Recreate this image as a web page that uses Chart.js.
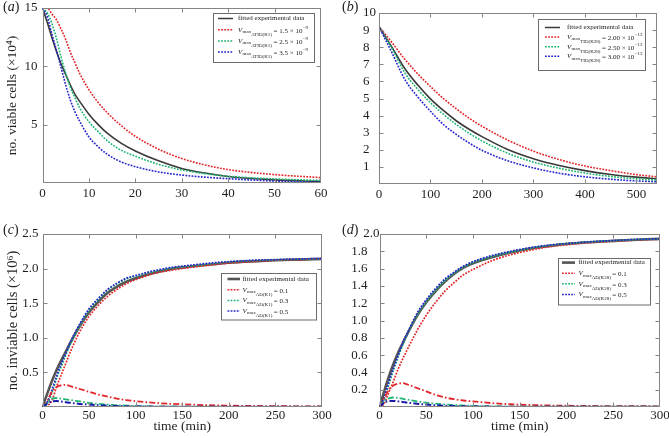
<!DOCTYPE html>
<html><head><meta charset="utf-8">
<script src="https://cdn.jsdelivr.net/npm/chart.js@4.4.0/dist/chart.umd.min.js"></script>
<style>
html,body{margin:0;padding:0;background:#fff;}
#wrap{position:relative;width:669px;height:438px;overflow:hidden;background:#fff;}
canvas{position:absolute;}
.lab{position:absolute;font-family:'Liberation Serif',serif;font-size:14px;color:#222;line-height:14px;white-space:nowrap;}
</style></head><body>
<div id="wrap">
<canvas id="ca" style="left:0;top:0" width="334" height="215"></canvas>
<canvas id="cb" style="left:334px;top:0" width="335" height="215"></canvas>
<canvas id="cc" style="left:0;top:215px" width="334" height="223"></canvas>
<canvas id="cd" style="left:334px;top:215px" width="335" height="223"></canvas>
<div class="lab" style="left:3px;top:0px">(<i>a</i>)</div>
<div class="lab" style="left:342px;top:0px">(<i>b</i>)</div>
<div class="lab" style="left:3px;top:223px">(<i>c</i>)</div>
<div class="lab" style="left:342px;top:223px">(<i>d</i>)</div>
</div>
<script>
// ---------- Panel (a): viable cells, ATID(K1) ----------
const tA = [0,1,2,3,4,5,6,7,8,10,12,14,17,20,25,30,35,40,50,60];
const blackA = [15,13.8,12.5,11.3,10.2,9.3,8.4,7.6,7.0,5.9,5.0,4.25,3.4,2.75,1.9,1.25,0.85,0.56,0.27,0.14];
const redA   = [15,15,14.5,14.0,13.2,12.3,11.2,10.3,9.4,8.0,6.9,6.0,4.9,4.0,2.9,2.1,1.55,1.15,0.72,0.46];
const greenA = [15,14.6,13.7,12.4,10.8,9.4,8.2,7.3,6.45,5.25,4.4,3.6,2.8,2.3,1.6,1.12,0.8,0.58,0.35,0.22];
const blueA  = [15,14.3,12.8,11.4,9.9,8.4,7.1,6.1,5.3,3.95,3.1,2.45,1.8,1.4,0.95,0.68,0.5,0.37,0.17,0.06];
const xTicksA = [0,10,20,30,40,50,60];
const yTicksA = [5,10,15];
const valsA = ['1.5','2.5','3.5'];
const subA = 'ATID(K1)';
const expA = '\u22129';

// ---------- Panel (b): viable cells, TID(K28) ----------
const tB = [0,25,50,75,100,125,150,175,200,250,300,350,400,450,500,540];
const blackB = [9.2,8.0,6.75,5.8,4.98,4.3,3.7,3.2,2.77,2.02,1.48,1.08,0.78,0.56,0.4,0.31];
const redB   = [9.2,8.28,7.3,6.45,5.7,5.0,4.4,3.85,3.38,2.57,1.92,1.43,1.05,0.78,0.55,0.42];
const greenB = [9.2,7.95,6.5,5.55,4.75,4.08,3.48,2.97,2.52,1.8,1.28,0.92,0.64,0.44,0.3,0.23];
const blueB  = [9.2,7.68,6.12,5.1,4.25,3.48,2.9,2.4,1.97,1.36,0.94,0.63,0.42,0.28,0.18,0.13];
const xTicksB = [0,100,200,300,400,500];
const yTicksB = [1,2,3,4,5,6,7,8,9,10];
const valsB = ['2.00','2.50','3.00'];
const subB = 'TID(K28)';
const expB = '\u221213';

// ---------- Panel (c): inviable cells, AD(K1) ----------
const tC = [0,5,10,15,20,25,30,40,50,60,70,80,90,100,120,140,160,180,200,225,250,275,300];
const blackC = [0,0.19,0.37,0.53,0.67,0.8,0.93,1.17,1.37,1.52,1.65,1.74,1.81,1.86,1.94,2.0,2.03,2.06,2.085,2.105,2.12,2.13,2.14];
const redC   = [0,0.02,0.09,0.29,0.46,0.63,0.8,1.09,1.31,1.47,1.6,1.7,1.78,1.84,1.93,1.98,2.02,2.05,2.08,2.1,2.12,2.13,2.14];
const greenC = [0,0.05,0.2,0.41,0.58,0.75,0.91,1.18,1.4,1.56,1.69,1.78,1.85,1.89,1.96,2.01,2.04,2.07,2.095,2.115,2.125,2.135,2.14];
const blueC  = [0,0.07,0.24,0.44,0.62,0.78,0.94,1.2,1.42,1.57,1.7,1.79,1.86,1.9,1.97,2.02,2.05,2.08,2.1,2.12,2.13,2.14,2.145];
const redLowC   = [0,0.08,0.22,0.29,0.315,0.32,0.3,0.26,0.22,0.18,0.15,0.12,0.1,0.085,0.06,0.045,0.035,0.025,0.02,0.015,0.012,0.01,0.008];
const greenLowC = [0,0.06,0.12,0.13,0.12,0.11,0.1,0.08,0.06,0.045,0.035,0.025,0.02,0.015,0.01,0.007,0.005,0.004,0.003,0.003,0.003,0.003,0.003];
const blueLowC  = [0,0.05,0.08,0.085,0.08,0.07,0.06,0.045,0.035,0.025,0.02,0.015,0.01,0.008,0.005,0.004,0.003,0.003,0.003,0.003,0.003,0.003,0.003];
const xTicksC = [0,50,100,150,200,250,300];
const yTicksC = [0.5,1.0,1.5,2.0,2.5];
const valsC = ['0.1','0.3','0.5'];
const subC = 'AD(K1)';

// ---------- Panel (d): inviable cells, AD(K28) ----------
const tD = [0,5,10,15,20,25,30,40,50,60,70,80,90,100,120,140,160,180,200,225,250,275,300];
const blackD = [0,0.18,0.35,0.5,0.63,0.74,0.85,1.05,1.21,1.34,1.45,1.54,1.61,1.66,1.73,1.785,1.83,1.86,1.885,1.905,1.92,1.933,1.944];
const redD   = [0,0.04,0.17,0.3,0.44,0.56,0.67,0.88,1.06,1.21,1.34,1.44,1.53,1.59,1.69,1.76,1.81,1.85,1.875,1.9,1.915,1.93,1.94];
const greenD = [0,0.09,0.26,0.43,0.58,0.72,0.85,1.06,1.22,1.35,1.46,1.55,1.62,1.67,1.74,1.79,1.835,1.865,1.888,1.908,1.922,1.935,1.945];
const blueD  = [0,0.11,0.29,0.45,0.6,0.75,0.86,1.08,1.24,1.37,1.48,1.56,1.63,1.68,1.75,1.8,1.84,1.87,1.89,1.91,1.925,1.937,1.946];
const redLowD   = [0,0.1,0.2,0.25,0.27,0.275,0.26,0.22,0.18,0.14,0.11,0.09,0.075,0.065,0.045,0.032,0.024,0.018,0.015,0.012,0.01,0.009,0.008];
const greenLowD = [0,0.07,0.1,0.11,0.105,0.095,0.085,0.065,0.05,0.038,0.03,0.022,0.017,0.013,0.008,0.005,0.004,0.003,0.003,0.003,0.003,0.003,0.003];
const blueLowD  = [0,0.05,0.07,0.07,0.065,0.058,0.05,0.038,0.028,0.02,0.015,0.011,0.008,0.006,0.004,0.003,0.003,0.003,0.003,0.003,0.003,0.003,0.003];
const xTicksD = [0,50,100,150,200,250,300];
const yTicksD = [0.2,0.4,0.6,0.8,1.0,1.2,1.4,1.6,1.8,2.0];
const valsD = ['0.1','0.3','0.5'];
const subD = 'AD(K28)';

const fittedLabel = 'fitted experimental data';
const yTitleA = 'no. viable cells (\u00d710\u2074)';
const yTitleC = 'no. inviable cells (\u00d710\u2076)';
const xTitle = 'time (min)';

// ---------- styling ----------
const FONT = '"Liberation Serif", "Times New Roman", serif';
const RED = '#e2262b', GREEN = '#1fb573', BLUE = '#2626cc', BLUE_DK = '#1b1ba8';
const DOT = [1.8, 1.3], DASHDOT = [6, 2.2, 1.6, 2.2];

function pts(t, v) { return t.map((x, i) => ({x: x, y: v[i]})); }
function ds(t, v, color, dash, width) {
  return {data: pts(t, v), borderColor: color, borderDash: dash, borderWidth: width,
          pointRadius: 0, fill: false, tension: 0.35, cubicInterpolationMode: 'monotone'};
}

function drawLegend(ctx, ca, L) {
  const bx = Math.round(ca.right - L.right - L.w), by = Math.round(ca.top + L.top);
  ctx.save();
  ctx.fillStyle = '#fff';
  ctx.fillRect(bx, by, L.w, L.h);
  ctx.strokeStyle = '#6a6a6a'; ctx.lineWidth = 1; ctx.setLineDash([]);
  ctx.strokeRect(bx + 0.5, by + 0.5, L.w, L.h);
  L.items.forEach((it, i) => {
    const ry = by + L.row0 + i * L.gap;
    ctx.save();
    ctx.strokeStyle = it.color; ctx.lineWidth = it.width; ctx.setLineDash(it.dash || []);
    ctx.beginPath(); ctx.moveTo(bx + L.x0, ry); ctx.lineTo(bx + L.x1, ry); ctx.stroke();
    ctx.restore();
    ctx.fillStyle = '#222'; ctx.textBaseline = 'middle'; ctx.textAlign = 'left';
    let cx = bx + L.tx;
    if (!it.sub) {
      ctx.font = L.fs + 'px ' + FONT;
      ctx.fillText(it.text, cx, ry);
      return;
    }
    ctx.font = 'italic ' + L.fs + 'px ' + FONT;
    ctx.fillText('V', cx, ry); cx += ctx.measureText('V').width + 0.3;
    ctx.font = L.ss + 'px ' + FONT;
    ctx.fillText('max', cx, ry + 2); cx += ctx.measureText('max').width;
    ctx.fillText(it.sub, cx, ry + 4.5); cx += ctx.measureText(it.sub).width + 1.5;
    ctx.font = L.fs + 'px ' + FONT;
    ctx.fillText(it.tail, cx, ry + 1); cx += ctx.measureText(it.tail).width;
    if (it.sup) {
      ctx.font = L.ss + 'px ' + FONT;
      ctx.fillText(it.sup, cx + 0.3, ry - 2.2);
    }
  });
  ctx.restore();
}

const framePlugin = {
  id: 'frame',
  afterDatasetsDraw(chart, args, opts) {
    const ctx = chart.ctx, a = chart.chartArea, xs = chart.scales.x, ys = chart.scales.y;
    ctx.save();
    ctx.setLineDash([]);
    ctx.strokeStyle = '#858585'; ctx.lineWidth = 1;
    const l = Math.round(a.left) + 0.5, r = Math.round(a.right) - 0.5, t = Math.round(a.top) + 0.5, b = Math.round(a.bottom) - 0.5;
    ctx.strokeRect(l, t, r - l, b - t);
    const TL = 4;
    ctx.beginPath();
    xs.ticks.forEach(tk => {
      const px = Math.round(xs.getPixelForValue(tk.value)) + 0.5;
      if (px <= l + 1 || px >= r - 1) return;
      ctx.moveTo(px, b); ctx.lineTo(px, b - TL);
      ctx.moveTo(px, t); ctx.lineTo(px, t + TL);
    });
    ys.ticks.forEach(tk => {
      const py = Math.round(ys.getPixelForValue(tk.value)) + 0.5;
      if (py <= t + 1 || py >= b - 1) return;
      ctx.moveTo(l, py); ctx.lineTo(l + TL, py);
      ctx.moveTo(r, py); ctx.lineTo(r - TL, py);
    });
    ctx.stroke();
    // a y tick label that the reference sets apart from the others (next to the panel letter)
    if (opts.shifted) {
      const s = opts.shifted;
      ctx.font = '13px ' + FONT; ctx.fillStyle = '#1e1e1e';
      ctx.textAlign = 'right'; ctx.textBaseline = 'middle';
      ctx.fillText(s.text, a.left + s.dx, ys.getPixelForValue(s.value));
    }
    ctx.restore();
    if (opts.legend) drawLegend(ctx, a, opts.legend);
  }
};
Chart.register(framePlugin);

function makeChart(id, cfg) {
  const tickFont = {family: FONT, size: cfg.tickSize || 13, lineHeight: 1.2};
  const x = {
    type: 'linear', min: cfg.xmin, max: cfg.xmax,
    afterBuildTicks: s => { s.ticks = cfg.xticks.map(v => ({value: v})); },
    afterFit: s => { s.height = cfg.xh; s.paddingLeft = 0; s.paddingRight = 0; },
    grid: {display: false, drawTicks: false}, border: {display: false},
    ticks: {font: tickFont, color: '#1e1e1e', padding: cfg.xpad, maxRotation: 0, autoSkip: false,
            callback: v => String(v)},
    title: cfg.xtitle ? {display: true, text: cfg.xtitle, font: {family: FONT, size: 13.5, lineHeight: 1.2},
            color: '#1e1e1e', padding: {top: 0, bottom: cfg.xtpad}} : {display: false}
  };
  const y = {
    type: 'linear', min: cfg.ymin, max: cfg.ymax,
    afterBuildTicks: s => { s.ticks = cfg.yticks.map(v => ({value: v})); },
    afterFit: s => { s.width = cfg.yw; s.paddingTop = 0; s.paddingBottom = 0; },
    grid: {display: false, drawTicks: false}, border: {display: false},
    ticks: {font: tickFont, color: '#1e1e1e', padding: cfg.ypad, autoSkip: false,
            crossAlign: cfg.yalign || 'near',
            callback: v => (cfg.shifted && Math.abs(v - cfg.shifted.value) < 1e-9) ? '' : cfg.yfmt(v)},
    title: cfg.ytitle ? {display: true, text: cfg.ytitle, font: {family: FONT, size: cfg.ytsize, lineHeight: 1.2},
            color: '#1e1e1e', padding: {top: cfg.ytpad, bottom: 0}} : {display: false}
  };
  return new Chart(document.getElementById(id), {
    type: 'line',
    data: {datasets: cfg.datasets},
    options: {
      responsive: false, animation: false, devicePixelRatio: 1,
      layout: {padding: {left: cfg.left || 0, top: cfg.top, right: cfg.right, bottom: 0}},
      plugins: {legend: {display: false}, tooltip: {enabled: false},
                frame: {legend: cfg.legend, shifted: cfg.shifted || null}},
      scales: {x: x, y: y}
    }
  });
}

function legendItems(thick, sub, vals, exp) {
  const items = [{text: fittedLabel, color: thick ? '#555' : '#3a3a3a', width: thick ? 2.6 : 1.5, dash: []}];
  const cols = [RED, GREEN, BLUE];
  vals.forEach((v, i) => {
    items.push({sub: sub, tail: '= ' + v + (exp ? ' \u00d7 10' : ''), sup: exp, color: cols[i], width: 1.5, dash: DOT});
  });
  return items;
}

// (a)
makeChart('ca', {
  xmin: 0, xmax: 60, xticks: xTicksA, ymin: 0, ymax: 15, yticks: yTicksA,
  yfmt: v => String(v), xh: 32, xpad: 3, yw: 42.5, ypad: 5,
  ytitle: yTitleA, ytsize: 13.5, ytpad: 4, top: 8, right: 13,
  legend: {right: 7, top: 5, w: 101, h: 49, row0: 5.5, gap: 11.2, x0: 5, x1: 20, tx: 25, fs: 7, ss: 5,
           items: legendItems(false, subA, valsA, expA)},
  datasets: [
    ds(tA, blueA, BLUE, DOT, 1.6), ds(tA, greenA, GREEN, DOT, 1.6), ds(tA, redA, RED, DOT, 1.6),
    ds(tA, blackA, '#3a3a3a', [], 1.6)
  ]
});

// (b)  y tick labels left-aligned as in the reference
makeChart('cb', {
  xmin: 0, xmax: 540, xticks: xTicksB, ymin: 0, ymax: 10, yticks: yTicksB,
  yfmt: v => String(v), xh: 31, xpad: 3, left: 29, yw: 16, ypad: 4, yalign: 'far',
  ytitle: null, top: 13, right: 12,
  legend: {right: 12, top: 6, w: 107, h: 51, row0: 8.5, gap: 9.6, x0: 7, x1: 22, tx: 29, fs: 7, ss: 5,
           items: legendItems(false, subB, valsB, expB)},
  datasets: [
    ds(tB, blueB, BLUE, DOT, 1.6), ds(tB, greenB, GREEN, DOT, 1.6), ds(tB, redB, RED, DOT, 1.6),
    ds(tB, blackB, '#3a3a3a', [], 1.6)
  ]
});

// (c)
makeChart('cc', {
  xmin: 0, xmax: 300, xticks: xTicksC, ymin: 0, ymax: 2.5, yticks: yTicksC,
  yfmt: v => v.toFixed(1), xh: 31, xpad: 1, yw: 42.5, ypad: 4, xtitle: xTitle, xtpad: 3,
  ytitle: yTitleC, ytsize: 14.5, ytpad: 4, top: 19, right: 12,
  legend: {right: 6, top: 38.5, w: 95, h: 46.5, row0: 6, gap: 10.7, x0: 6.5, x1: 19, tx: 21.5, fs: 7, ss: 5,
           items: legendItems(true, subC, valsC, null)},
  datasets: [
    ds(tC, blueLowC, BLUE_DK, DASHDOT, 2), ds(tC, greenLowC, GREEN, DASHDOT, 1.8), ds(tC, redLowC, RED, DASHDOT, 1.8),
    ds(tC, blueC, BLUE, DOT, 1.7), ds(tC, greenC, GREEN, DOT, 1.7), ds(tC, redC, RED, DOT, 1.7),
    ds(tC, blackC, '#555', [], 2.6)
  ]
});

// (d)
makeChart('cd', {
  xmin: 0, xmax: 300, xticks: xTicksD, ymin: 0, ymax: 2.0, yticks: yTicksD,
  yfmt: v => v.toFixed(1), xh: 31, xpad: 1, yw: 45.5, ypad: 12, xtitle: xTitle, xtpad: 3,
  ytitle: null, top: 19, right: 9, shifted: {value: 2.0, text: '2.0', dx: 0},
  legend: {right: 10, top: 24, w: 92, h: 46.5, row0: 4.6, gap: 10.6, x0: 4, x1: 17, tx: 20.5, fs: 7, ss: 5,
           items: legendItems(true, subD, valsD, null)},
  datasets: [
    ds(tD, blueLowD, BLUE_DK, DASHDOT, 2), ds(tD, greenLowD, GREEN, DASHDOT, 1.8), ds(tD, redLowD, RED, DASHDOT, 1.8),
    ds(tD, blueD, BLUE, DOT, 1.7), ds(tD, greenD, GREEN, DOT, 1.7), ds(tD, redD, RED, DOT, 1.7),
    ds(tD, blackD, '#555', [], 2.6)
  ]
});
</script>
</body></html>
